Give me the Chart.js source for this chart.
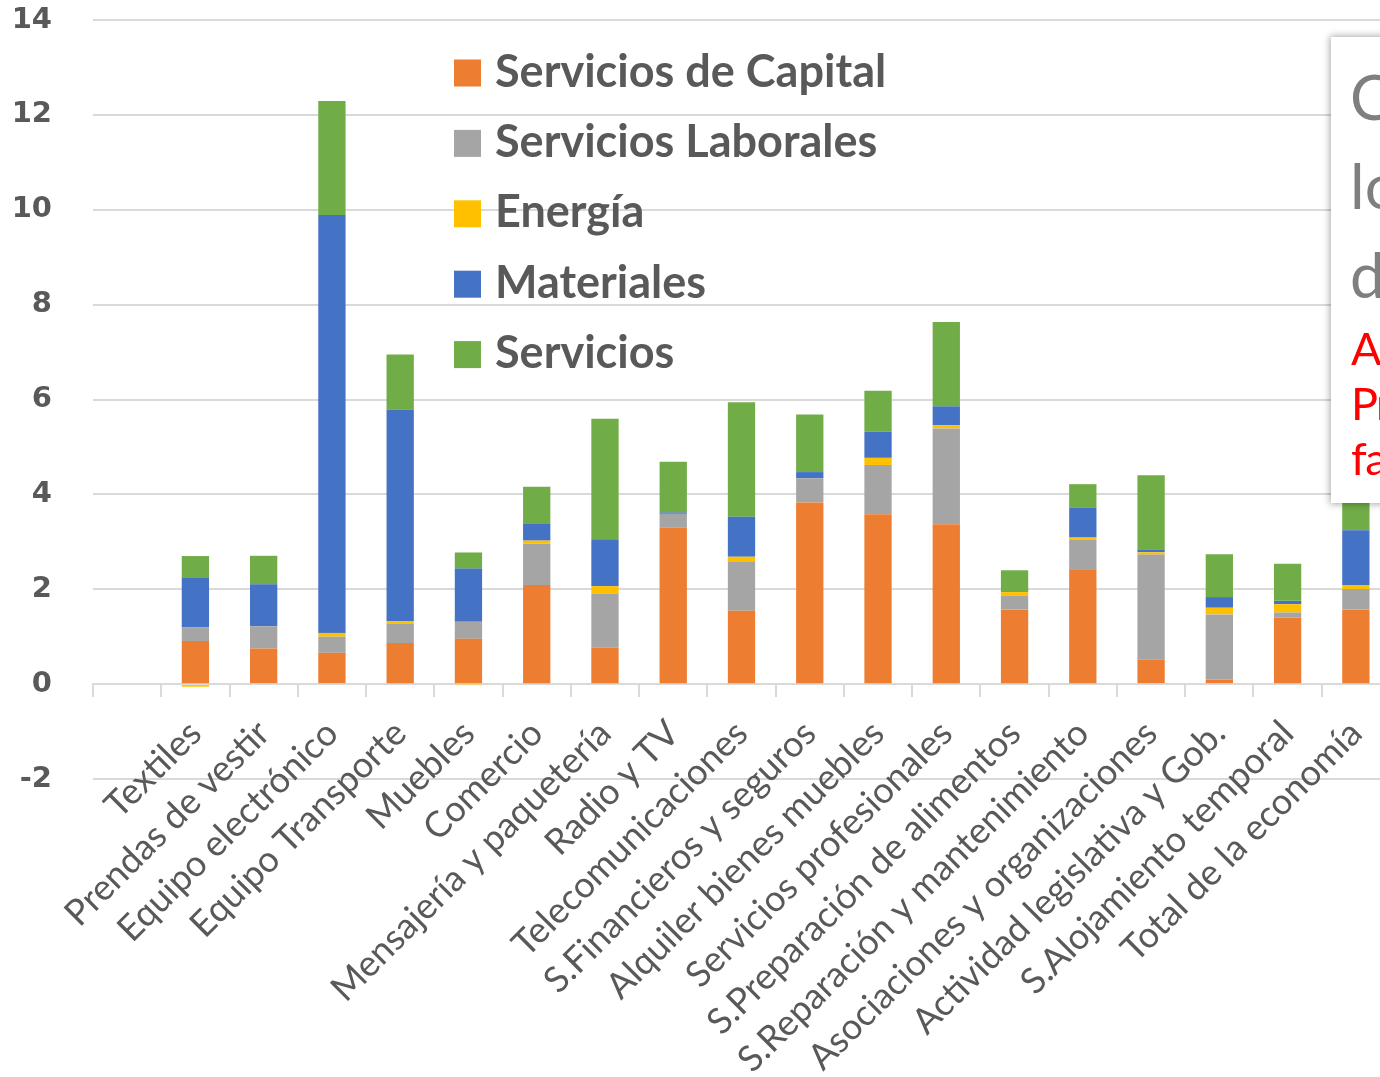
<!DOCTYPE html>
<html lang="es">
<head>
<meta charset="utf-8">
<title>Servicios por sector</title>
<script src="https://cdn.jsdelivr.net/npm/chart.js@4.4.1/dist/chart.umd.min.js"></script>
<style>
    html, body { margin: 0; padding: 0; background: #fff; width: 1380px; height: 1077px; overflow: hidden; }
    #wrap { position: absolute; left: 0; top: 0; width: 1390px; height: 1077px; }
    #note {
        position: absolute; left: 1331px; top: 37px; width: 200px; height: 466px;
        background: #fff; box-shadow: 0 0 7px 1px rgba(0,0,0,0.35);
        font-family: Lato, sans-serif; overflow: hidden;
    }
    #note .big { position: absolute; left: 19px; top: 15px; font-size: 62px; line-height: 89px; color: #7f7f7f; white-space: nowrap; }
    #note .red { position: absolute; left: 20px; top: 284px; font-size: 45px; line-height: 55px; letter-spacing: -1.5px; color: #ff0000; white-space: nowrap; }
</style>
</head>
<body>
<div id="wrap"><canvas id="chart" width="1390" height="1077"></canvas></div>
<div id="note">
    <div class="big">C<br>lo<br>d</div>
    <div class="red">A<br>Pr<br>fa</div>
</div>
<script>
'use strict';

// ─── Data ────────────────────────────────────────────────────────────────────
const categories = ['', 'Textiles', 'Prendas de vestir', 'Equipo electrónico', 'Equipo Transporte',
    'Muebles', 'Comercio', 'Mensajería y paquetería', 'Radio y TV', 'Telecomunicaciones',
    'S.Financieros y seguros', 'Alquiler bienes muebles', 'Servicios profesionales',
    'S.Preparación de alimentos', 'S.Reparación y mantenimiento', 'Asociaciones y organizaciones',
    'Actividad legislativa y Gob.', 'S.Alojamiento temporal', 'Total de la economía'];

const serviciosCapital   = [null, 0.91, 0.75, 0.66, 0.865, 0.955, 2.09, 0.765, 3.30, 1.545, 3.83, 3.58, 3.37, 1.57, 2.42, 0.52, 0.09, 1.405, 1.57];
const serviciosLaborales = [null, 0.29, 0.47, 0.34, 0.415, 0.36, 0.87, 1.145, 0.29, 1.03, 0.51, 1.04, 2.02, 0.30, 0.63, 2.21, 1.38, 0.105, 0.435];
const energia            = [null, -0.055, 0, 0.08, 0.05, -0.01, 0.065, 0.155, 0, 0.11, 0, 0.15, 0.065, 0.07, 0.04, 0.05, 0.14, 0.175, 0.085];
const materiales         = [null, 1.04, 0.885, 8.81, 4.46, 1.12, 0.365, 0.99, 0.03, 0.845, 0.13, 0.55, 0.40, 0, 0.625, 0.055, 0.225, 0.07, 1.155];
const servicios          = [null, 0.46, 0.60, 2.40, 1.16, 0.34, 0.77, 2.54, 1.07, 2.41, 1.215, 0.865, 1.78, 0.46, 0.50, 1.57, 0.905, 0.785, 0.90];

const yMin = -2, yMax = 14, yStep = 2;

const GRID = '#d9d9d9';
const TEXT = '#595959';

// ─── Legend drawn inside the plot (top-left of the data area) ───────────────
const insideLegend = {
    id: 'insideLegend',
    afterDatasetsDraw(chart) {
        const ctx = chart.ctx;
        ctx.save();
        ctx.font = 'bold 45px Lato, sans-serif';
        ctx.textBaseline = 'alphabetic';
        ctx.textAlign = 'left';
        chart.data.datasets.forEach((ds, i) => {
            const top = 59.5 + i * 70.4;
            ctx.fillStyle = ds.backgroundColor;
            ctx.fillRect(454, top, 27, 27);
            ctx.fillStyle = TEXT;
            ctx.fillText(ds.label, 495, top + 27);
        });
        ctx.restore();
    }
};

function ds(label, data, color) {
    return { label, data, backgroundColor: color, borderWidth: 0 };
}

new Chart(document.getElementById('chart'), {
    type: 'bar',
    data: {
        labels: categories,
        datasets: [
            ds('Servicios de Capital', serviciosCapital, '#ed7d31'),
            ds('Servicios Laborales', serviciosLaborales, '#a5a5a5'),
            ds('Energía', energia, '#ffc000'),
            ds('Materiales', materiales, '#4472c4'),
            ds('Servicios', servicios, '#70ad47'),
        ],
    },
    options: {
        responsive: false,
        animation: false,
        devicePixelRatio: 1,
        layout: { padding: { top: 20, bottom: 298, left: 0, right: 0 } },
        datasets: { bar: { categoryPercentage: 1, barPercentage: 0.4 } },
        plugins: { legend: { display: false }, tooltip: { enabled: false } },
        scales: {
            x: {
                stacked: true,
                position: { y: 0 },
                grid: { drawOnChartArea: false, drawTicks: true, tickLength: 12, color: GRID, lineWidth: 2, offset: true },
                border: { display: true, color: GRID, width: 2 },
                ticks: {
                    autoSkip: false, maxRotation: 45, minRotation: 45, padding: 16,
                    color: TEXT, font: { family: 'Lato, sans-serif', size: 36 },
                },
                afterFit(s) { s.height = 0; s.paddingLeft = 0; s.paddingRight = 0; },
            },
            y: {
                stacked: true,
                min: yMin, max: yMax,
                grid: { color: GRID, lineWidth: 2, drawTicks: false },
                border: { display: false },
                ticks: {
                    stepSize: yStep, padding: 41, color: TEXT,
                    font: { family: '"DejaVu Sans", sans-serif', size: 29, weight: 'bold' },
                },
                afterFit(s) { s.width = 93; s.paddingTop = 0; s.paddingBottom = 0; },
            },
        },
    },
    plugins: [insideLegend],
});
</script>
</body>
</html>
